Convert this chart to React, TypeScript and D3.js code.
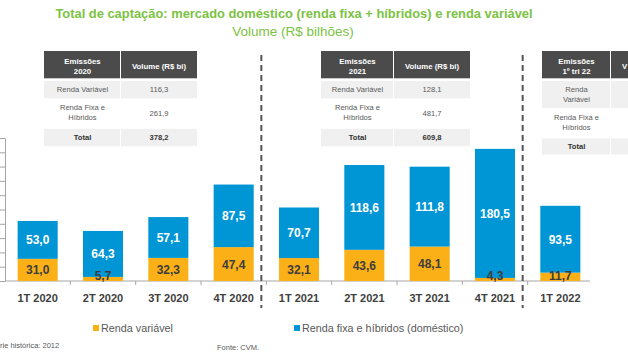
import React, { useRef, useEffect } from "react";
import * as d3 from "d3";

const quarters = ["1T 2020", "2T 2020", "3T 2020", "4T 2020", "1T 2021", "2T 2021", "3T 2021", "4T 2021", "1T 2022"];
const rendaVariavel = [31.0, 5.7, 32.3, 47.4, 32.1, 43.6, 48.1, 4.3, 11.7];
const rendaFixa = [53.0, 64.3, 57.1, 87.5, 70.7, 118.6, 111.8, 180.5, 93.5];
const yTicks = [0, 20, 40, 60, 80, 100, 120, 140, 160, 180, 200];
const seriesNames = ["Renda variável", "Renda fixa e híbridos (doméstico)"];
const breaks = ["1T 2021", "1T 2022"];

// summary tables (third one is cut by the right edge, its values are not visible)
const tableYears = ["2020", "2021", "1º tri 22"];
const tableRV = ["116,3", "128,1"];
const tableRF = ["261,9", "481,7"];
const tableTotal = ["378,2", "609,8"];

const BLUE = "#0096d6";
const ORANGE = "#fbb017";
const GREEN = "#7cc243";
const FONT = "'Liberation Sans', Arial, sans-serif";

const fmt = (v: number) => v.toFixed(1).replace(".", ",");

const App = () => {
  const ref = useRef<SVGSVGElement>(null);

  useEffect(() => {
    const svg = d3.select(ref.current);
    svg.selectAll("*").remove();
    svg.attr("width", 628).attr("height", 353).style("font-family", FONT);

    svg.append("rect").attr("width", 628).attr("height", 353).attr("fill", "#fff");

    // titles
    svg.append("text")
      .attr("x", 294).attr("y", 18)
      .attr("text-anchor", "middle")
      .attr("font-size", 12.9).attr("font-weight", "bold")
      .attr("fill", GREEN)
      .text("Total de captação: mercado doméstico (renda fixa + híbridos) e renda variável");
    svg.append("text")
      .attr("x", 293).attr("y", 36)
      .attr("text-anchor", "middle")
      .attr("font-size", 13.5)
      .attr("fill", GREEN)
      .text("Volume (R$ bilhões)");

    const x = d3.scaleBand().domain(quarters).range([5, 593]).paddingInner(0.387).paddingOuter(0.1935);
    const y = d3.scaleLinear().domain([0, 200]).range([281, 138]);
    const step = x.step();
    const edge = (q: string) => (x(q) as number) - (step * x.paddingInner()) / 2;

    // y axis
    const yAxis = svg.append("g")
      .attr("transform", "translate(5,0)")
      .call(d3.axisLeft(y).tickValues(yTicks).tickSize(5).tickSizeOuter(0).tickFormat(() => ""));
    yAxis.selectAll("path,line").attr("stroke", "#a6a6a6");

    // x axis line and boundary ticks
    svg.append("line")
      .attr("x1", 5).attr("x2", 590)
      .attr("y1", y(0)).attr("y2", y(0))
      .attr("stroke", "#a6a6a6");
    svg.selectAll(".xtick")
      .data(quarters.slice(1))
      .enter()
      .append("line")
      .attr("x1", (d) => edge(d)).attr("x2", (d) => edge(d))
      .attr("y1", y(0)).attr("y2", y(0) + 4)
      .attr("stroke", "#a6a6a6");

    // bars
    const rows = quarters.map((q, i) => ({ q, rv: rendaVariavel[i], rf: rendaFixa[i] }));
    const stacked = d3.stack<any>().keys(["rv", "rf"])(rows);
    const colors = [ORANGE, BLUE];
    stacked.forEach((layer, li) => {
      svg.append("g")
        .selectAll("rect")
        .data(layer)
        .enter()
        .append("rect")
        .attr("x", (d) => x(d.data.q) as number)
        .attr("y", (d) => y(d[1]))
        .attr("width", x.bandwidth())
        .attr("height", (d) => y(d[0]) - y(d[1]))
        .attr("fill", colors[li]);
    });

    // value labels
    stacked.forEach((layer, li) => {
      svg.append("g")
        .selectAll("text")
        .data(layer)
        .enter()
        .append("text")
        .attr("x", (d) => (x(d.data.q) as number) + x.bandwidth() / 2)
        .attr("y", (d) => Math.min((y(d[0]) + y(d[1])) / 2, y(0) - 6) + 4.5)
        .attr("text-anchor", "middle")
        .attr("font-size", 12).attr("font-weight", "bold")
        .attr("fill", li === 0 ? "#3d3d3d" : "#fff")
        .text((d) => fmt(d[1] - d[0]));
    });

    // x labels
    svg.append("g")
      .selectAll("text")
      .data(quarters)
      .enter()
      .append("text")
      .attr("x", (d) => (x(d) as number) + x.bandwidth() / 2)
      .attr("y", 302)
      .attr("text-anchor", "middle")
      .attr("font-size", 11).attr("font-weight", "bold")
      .attr("fill", "#404040")
      .text((d) => d);

    // dashed separators
    svg.selectAll(".sep")
      .data(breaks)
      .enter()
      .append("line")
      .attr("x1", (d) => edge(d) - 5).attr("x2", (d) => edge(d) - 5)
      .attr("y1", 55).attr("y2", 308)
      .attr("stroke", "#555").attr("stroke-width", 2)
      .attr("stroke-dasharray", "6,4");

    // tables
    const tableX = [44, 321, 542];
    const col1W = [77, 73, 69];
    const col2W = 76;
    tableYears.forEach((yr, t) => {
      const g = svg.append("g").attr("transform", `translate(${tableX[t]},51)`);
      const w1 = col1W[t];
      const tall = t === 2;
      const h1 = tall ? 27 : 17.3;
      const h2 = 30;
      const h3 = tall ? 16 : 17.4;
      const y1 = 30, y2 = y1 + h1, y3 = y2 + h2 + 0.5;
      // header
      g.append("rect").attr("width", w1 - 1).attr("height", 27.3).attr("fill", "#4b4b4b");
      g.append("rect").attr("x", w1).attr("width", col2W).attr("height", 27.3).attr("fill", "#4b4b4b");
      g.append("text").attr("x", w1 / 2).attr("y", 12.5).attr("text-anchor", "middle")
        .attr("font-size", 7.8).attr("font-weight", "bold").attr("fill", "#fff").text("Emissões");
      g.append("text").attr("x", w1 / 2).attr("y", 22.5).attr("text-anchor", "middle")
        .attr("font-size", 7.8).attr("font-weight", "bold").attr("fill", "#fff").text(yr);
      if (!tall) {
        g.append("text").attr("x", w1 + col2W / 2).attr("y", 17.5).attr("text-anchor", "middle")
          .attr("font-size", 7.8).attr("font-weight", "bold").attr("fill", "#fff").text("Volume (R$ bi)");
      } else {
        g.append("text").attr("x", w1 + 11).attr("y", 17.5)
          .attr("font-size", 7.8).attr("font-weight", "bold").attr("fill", "#fff").text("V");
      }
      // rows bg
      g.append("rect").attr("y", y1).attr("width", w1 - 1).attr("height", h1).attr("fill", "#f0f0f0");
      g.append("rect").attr("x", w1).attr("y", y1).attr("width", col2W).attr("height", h1).attr("fill", "#f0f0f0");
      g.append("rect").attr("y", y3).attr("width", w1 - 1).attr("height", h3).attr("fill", "#f0f0f0");
      g.append("rect").attr("x", w1).attr("y", y3).attr("width", col2W).attr("height", h3).attr("fill", "#f0f0f0");
      const body = (tx: number, ty: number, s: string | undefined, bold = false) => {
        if (!s) return;
        g.append("text").attr("x", tx).attr("y", ty).attr("text-anchor", "middle")
          .attr("font-size", 7.6).attr("font-weight", bold ? "bold" : "normal")
          .attr("fill", bold ? "#333" : "#595959").text(s);
      };
      if (tall) {
        body(w1 / 2, y1 + 11, "Renda");
        body(w1 / 2, y1 + 21, "Variável");
      } else {
        body(w1 / 2, y1 + h1 / 2 + 2.7, "Renda Variável");
      }
      body(w1 + col2W / 2, y1 + h1 / 2 + 2.7, tableRV[t]);
      body(w1 / 2, y2 + 12, "Renda Fixa e");
      body(w1 / 2, y2 + 22, "Híbridos");
      body(w1 + col2W / 2, y2 + h2 / 2 + 2.7, tableRF[t]);
      body(w1 / 2, y3 + h3 / 2 + 2.7, "Total", true);
      body(w1 + col2W / 2, y3 + h3 / 2 + 2.7, tableTotal[t], true);
    });

    // legend
    const legX = [93, 294];
    seriesNames.forEach((name, i) => {
      svg.append("rect").attr("x", legX[i]).attr("y", 325).attr("width", 6).attr("height", 6).attr("fill", colors[i]);
      svg.append("text").attr("x", legX[i] + 8).attr("y", 332)
        .attr("font-size", 10.8).attr("fill", "#595959").text(name);
    });

    // footer (left note is cropped in the source, only its visible part is kept)
    svg.append("text").attr("x", 0).attr("y", 348).attr("font-size", 7.5).attr("fill", "#595959")
      .text("rie histórica:  2012");
    svg.append("text").attr("x", 217).attr("y", 350).attr("font-size", 7.5).attr("fill", "#595959")
      .text("Fonte: CVM.");
  }, []);

  return <svg ref={ref} style={{ position: "absolute", left: 0, top: 0, display: "block" }} />;
};

export default App;
